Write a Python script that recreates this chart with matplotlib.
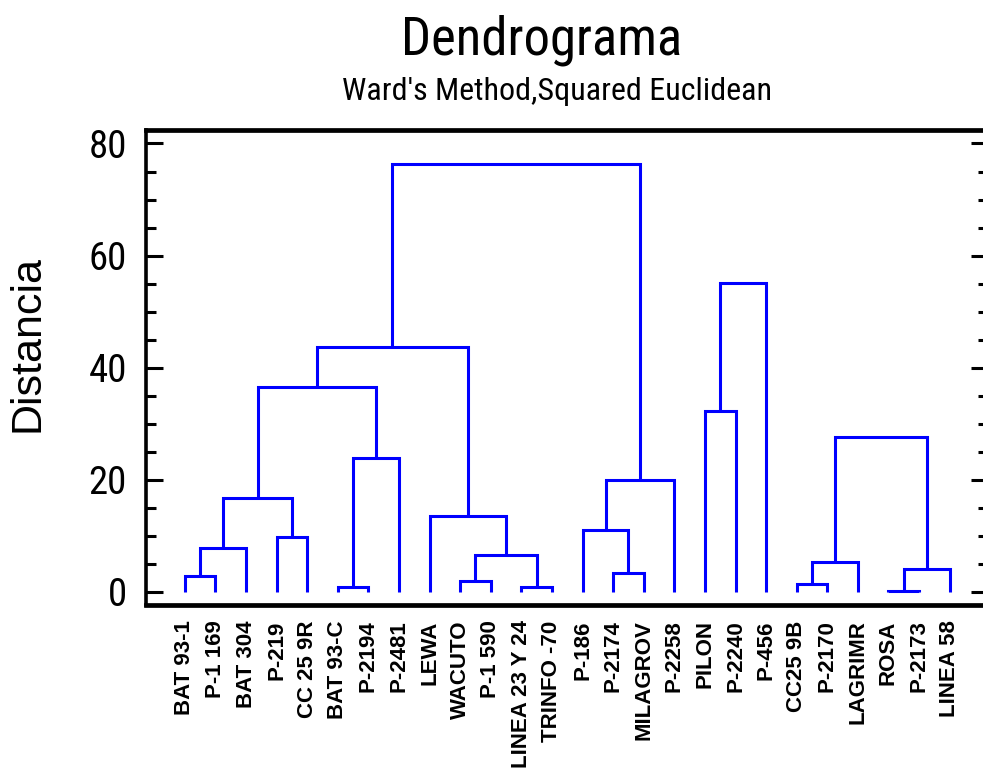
import matplotlib
matplotlib.use("Agg")
import matplotlib.pyplot as plt
from matplotlib.ticker import MultipleLocator

# leaf order, left to right
leaves = ["BAT 93-1", "P-1 169", "BAT 304", "P-219", "CC 25 9R", "BAT 93-C",
          "P-2194", "P-2481", "LEWA", "WACUTO", "P-1 590", "LINEA 23 Y 24",
          "TRINFO -70", "P-186", "P-2174", "MILAGROV", "P-2258", "PILON",
          "P-2240", "P-456", "CC25 9B", "P-2170", "LAGRIMR", "ROSA", "P-2173",
          "LINEA 58"]
# merges: ids < 26 are leaves, id 26+k is the k-th merge
merge_left = [0, 26, 3, 27, 5, 30, 29, 9, 11, 33, 8, 32,
              14, 13, 39, 17, 41, 20, 43, 23, 45, 44, 37]
merge_right = [1, 2, 4, 28, 6, 7, 31, 10, 12, 34, 35, 36,
               15, 38, 16, 18, 19, 21, 22, 24, 25, 46, 40]
merge_height = [2.8, 7.8, 9.8, 16.8, 0.8, 23.9, 36.6, 2.0, 0.8, 6.55, 13.6, 43.6,
                3.3, 11.1, 19.9, 32.2, 55.1, 1.45, 5.25, 0.05, 4.05, 27.6, 76.3]

NARROW = ["Liberation Sans Narrow", "Roboto Condensed", "Open Sans Condensed",
          "Liberation Sans", "DejaVu Sans"]
BLUE = "#0000ff"

fig = plt.figure(figsize=(9.83, 7.71), dpi=100)
ax = fig.add_axes([0.149, 0.2153, 1.005 - 0.149, 0.8314 - 0.2153])

pos = {i: float(i) for i in range(len(leaves))}
hgt = {i: 0.0 for i in range(len(leaves))}

nid = len(leaves)
for a, b, h in zip(merge_left, merge_right, merge_height):
    ax.plot([pos[a], pos[a], pos[b], pos[b]], [hgt[a], h, h, hgt[b]],
            color=BLUE, lw=2.2, solid_capstyle="butt", solid_joinstyle="miter")
    pos[nid] = (pos[a] + pos[b]) / 2
    hgt[nid] = h
    nid += 1

ax.set_xlim(-1.255, 26.25)
ax.set_ylim(-2.37, 82.41)

ax.set_xticks(range(len(leaves)))
ax.set_xticklabels(leaves, rotation=90, fontsize=16, fontweight="bold",
                   family=["Liberation Sans", "DejaVu Sans"])
ax.tick_params(axis="x", length=0, pad=11)

ax.yaxis.set_major_locator(MultipleLocator(20))
ax.yaxis.set_minor_locator(MultipleLocator(5))
ax.tick_params(axis="y", which="both", direction="in", right=True, width=2.2, pad=14)
ax.tick_params(axis="y", which="major", length=12, labelsize=28)
ax.tick_params(axis="y", which="minor", length=7)
for t in ax.get_yticklabels():
    t.set_family(NARROW)

ax.spines["right"].set_visible(False)
ax.spines["left"].set_linewidth(2.6)
ax.spines["top"].set_linewidth(3.4)
ax.spines["bottom"].set_linewidth(3.4)

fig.text(0.551, 1 - 55 / 771, "Dendrograma", ha="center", va="baseline",
         fontsize=38, family=NARROW)
fig.text(0.567, 1 - 100 / 771, "Ward's Method,Squared Euclidean", ha="center",
         va="baseline", fontsize=23, family=NARROW)
fig.text(28 / 983, 1 - 344 / 771, "Distancia", rotation=90, ha="center",
         va="center", fontsize=31, family=["Liberation Sans", "DejaVu Sans"])

fig.savefig("out.png", dpi=100)
